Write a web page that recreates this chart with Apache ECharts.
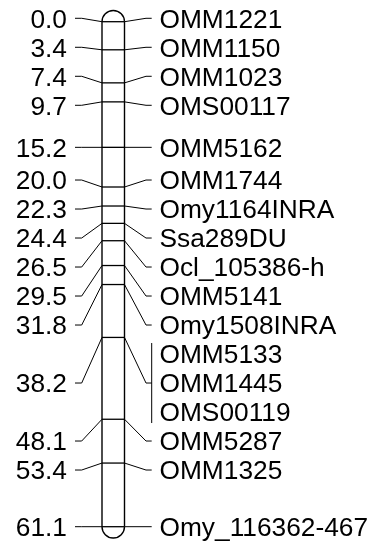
<!DOCTYPE html>
<html>
<head>
<meta charset="utf-8">
<script src="https://cdn.jsdelivr.net/npm/echarts@6/dist/echarts.min.js"></script>
<style>html,body{margin:0;padding:0;background:#fff;}#c{width:373px;height:544px;}</style>
</head>
<body>
<div id="c"></div>
<script>
// marker positions (cM) and names, one entry per marker
const markerPositions = [0.0, 3.4, 7.4, 9.7, 15.2, 20.0, 22.3, 24.4, 26.5, 29.5, 31.8, 38.2, 38.2, 38.2, 48.1, 53.4, 61.1];
const markerNames = ["OMM1221", "OMM1150", "OMM1023", "OMS00117", "OMM5162", "OMM1744", "Omy1164INRA", "Ssa289DU", "Ocl_105386-h", "OMM5141", "Omy1508INRA", "OMM5133", "OMM1445", "OMS00119", "OMM5287", "OMM1325", "Omy_116362-467"];
const chromosomeRange = [0.0, 61.1];

// group markers sharing a position
const groups = [];
markerPositions.forEach((p, i) => {
  const last = groups[groups.length - 1];
  if (last && last.pos === p) last.b = i;
  else groups.push({ pos: p, a: i, b: i });
});

const FONT = '26.3px "Liberation Sans", Arial, sans-serif';
const S = 29;              // label slot spacing (px)
const BAR_L = 102, BAR_R = 124.5;
const BAR_C = (BAR_L + BAR_R) / 2, BAR_RAD = (BAR_R - BAR_L) / 2;

function layoutLabels(yPix) {
  const ideal = markerPositions.map(yPix);
  const pos = ideal.slice();
  const clusters = [];
  for (let k = 0; k < ideal.length; k++) {
    if (k > 0 && ideal[k] < pos[k - 1] + S) {
      pos[k] = pos[k - 1] + S;
      clusters[clusters.length - 1].b = k;
    } else clusters.push({ a: k, b: k });
  }
  function place(c) {
    const mid = (ideal[c.a] + ideal[c.b]) / 2;
    const n = c.b - c.a;
    for (let i = 0; i <= n; i++) pos[c.a + i] = mid - n * S / 2 + i * S;
  }
  clusters.forEach(place);
  let merged = true;
  while (merged) {
    merged = false;
    for (let i = 1; i < clusters.length; i++) {
      if (pos[clusters[i].a] < pos[clusters[i - 1].b] + S - 0.01) {
        clusters[i - 1].b = clusters[i].b;
        clusters.splice(i, 1);
        place(clusters[i - 1]);
        merged = true;
        break;
      }
    }
  }
  return pos;
}

const chart = echarts.init(document.getElementById('c'), null, { renderer: 'canvas' });
chart.setOption({
  animation: false,
  backgroundColor: '#fff',
  grid: { left: 0, right: 0, top: 21.7, bottom: 17.3 },
  xAxis: { type: 'value', min: 0, max: 373, show: false },
  yAxis: { type: 'value', min: chromosomeRange[0], max: chromosomeRange[1], inverse: true, show: false },
  series: [
    {
      type: 'custom',
      silent: true,
      data: [[chromosomeRange[0], chromosomeRange[1]]],
      renderItem: function (params, api) {
        const y0 = api.coord([0, api.value(0)])[1];
        const y1 = api.coord([0, api.value(1)])[1];
        const st = { stroke: '#000', lineWidth: 1.4, fill: null };
        return {
          type: 'group',
          children: [
            { type: 'line', shape: { x1: BAR_L, y1: y0, x2: BAR_L, y2: y1 }, style: st },
            { type: 'line', shape: { x1: BAR_R, y1: y0, x2: BAR_R, y2: y1 }, style: st },
            { type: 'arc', shape: { cx: BAR_C, cy: y0, r: BAR_RAD, startAngle: Math.PI, endAngle: 2 * Math.PI, clockwise: true }, style: st },
            { type: 'arc', shape: { cx: BAR_C, cy: y1, r: BAR_RAD, startAngle: 0, endAngle: Math.PI, clockwise: true }, style: st }
          ]
        };
      }
    },
    {
      type: 'custom',
      silent: true,
      data: groups.map(g => [0, g.pos]),
      renderItem: function (params, api) {
        const yPix = v => api.coord([0, v])[1];
        const slots = layoutLabels(yPix);
        const g = groups[params.dataIndex];
        const my = yPix(g.pos);
        const ly = (slots[g.a] + slots[g.b]) / 2;
        const lineSt = { stroke: '#000', lineWidth: 1, fill: null };
        const children = [
          { type: 'polyline', shape: { points: [[75, ly], [81.7, ly], [BAR_L, my]] }, style: lineSt },
          { type: 'line', shape: { x1: BAR_L, y1: my, x2: BAR_R, y2: my }, style: { stroke: '#000', lineWidth: 1.3 } },
          { type: 'polyline', shape: { points: [[BAR_R, my], [146, ly], [151.7, ly]] }, style: lineSt },
          { type: 'text', x: 67, y: ly + 2, style: { text: g.pos.toFixed(1), font: FONT, fill: '#000', align: 'right', verticalAlign: 'middle' } }
        ];
        if (g.b > g.a) {
          children.push({ type: 'line', shape: { x1: 151.7, y1: slots[g.a] - 11, x2: 151.7, y2: slots[g.b] + 11 }, style: lineSt });
        }
        for (let k = g.a; k <= g.b; k++) {
          children.push({ type: 'text', x: 159.5, y: slots[k] + 2, style: { text: markerNames[k], font: FONT, fill: '#000', align: 'left', verticalAlign: 'middle' } });
        }
        return { type: 'group', children: children };
      }
    }
  ]
});
</script>
</body>
</html>
